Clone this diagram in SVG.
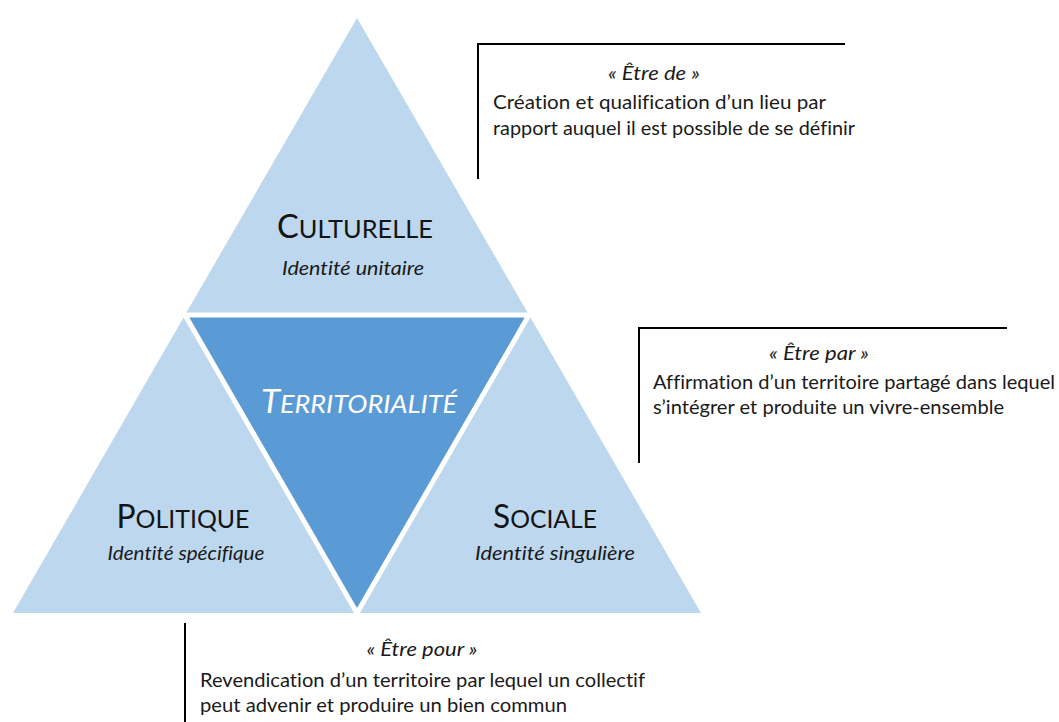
<svg xmlns="http://www.w3.org/2000/svg" width="1059" height="722" viewBox="0 0 1059 722">
<style>
text{font-variant-ligatures:none;font-feature-settings:"liga" 0,"clig" 0}
.tri{fill:#BDD7EE}
.mid{fill:#5B9BD5}
.gap{stroke:#FFFFFF;stroke-width:5;fill:none;stroke-linejoin:miter}
.lbl{font-family:Lato,"Open Sans","Liberation Sans",sans-serif;fill:#141414}
.big{font-size:32px}
.sc{font-size:25px}
.sub{font-family:Lato,"Open Sans","Liberation Sans",sans-serif;font-style:italic;font-size:19px;fill:#1a1a1a}
.ttl{font-family:Lato,"Open Sans","Liberation Sans",sans-serif;font-style:italic;fill:#FFFFFF}
.body{font-family:Lato,"Open Sans","Liberation Sans",sans-serif;font-size:20px;fill:#1a1a1a}
.quote{font-family:Lato,"Open Sans","Liberation Sans",sans-serif;font-style:italic;font-size:20px;fill:#1a1a1a}
.bracket{stroke:#000000;stroke-width:2;fill:none}
</style>
<rect width="1059" height="722" fill="#FFFFFF"/>
<g id="culturelle">
<polygon class="tri" points="357,18 185,315 529,315"/>
<text class="lbl" x="355" y="238" text-anchor="middle" textLength="156" lengthAdjust="spacingAndGlyphs"><tspan class="big">C</tspan><tspan class="sc">ULTURELLE</tspan></text>
<text class="sub" x="353" y="275" text-anchor="middle" textLength="142" lengthAdjust="spacingAndGlyphs">Identité unitaire</text>
</g>
<g id="politique">
<polygon class="tri" points="185,315 13,613 357,613"/>
<text class="lbl" x="183" y="528" text-anchor="middle" textLength="133" lengthAdjust="spacingAndGlyphs"><tspan class="big">P</tspan><tspan class="sc">OLITIQUE</tspan></text>
<text class="sub" x="186" y="560" text-anchor="middle" textLength="157" lengthAdjust="spacingAndGlyphs">Identité spécifique</text>
</g>
<g id="sociale">
<polygon class="tri" points="529,315 357,613 701,613"/>
<text class="lbl" x="545" y="528" text-anchor="middle" textLength="104" lengthAdjust="spacingAndGlyphs"><tspan class="big">S</tspan><tspan class="sc">OCIALE</tspan></text>
<text class="sub" x="555" y="560" text-anchor="middle" textLength="160" lengthAdjust="spacingAndGlyphs">Identité singulière</text>
</g>
<g id="territorialite">
<polygon class="mid" points="185,315 529,315 357,613"/>
<text class="ttl" x="359" y="413" text-anchor="middle" textLength="196" lengthAdjust="spacingAndGlyphs"><tspan font-size="32">T</tspan><tspan font-size="25">ERRITORIALITÉ</tspan></text>
</g>
<g id="separators">
<polygon class="gap" points="185,315 529,315 357,613"/>
</g>
<g id="connectors">
<polyline class="bracket" points="478,179 478,44 845,44"/>
<polyline class="bracket" points="639,463 639,328 1007,328"/>
<line class="bracket" x1="185" y1="623" x2="185" y2="722"/>
</g>
<g id="etre-de">
<text class="quote" x="654" y="80" text-anchor="middle" textLength="92" lengthAdjust="spacingAndGlyphs">« Être de »</text>
<text class="body" x="493" y="109" textLength="333" lengthAdjust="spacingAndGlyphs">Création et qualification d’un lieu par</text>
<text class="body" x="493" y="135" textLength="362" lengthAdjust="spacingAndGlyphs">rapport auquel il est possible de se définir</text>
</g>
<g id="etre-par">
<text class="quote" x="819" y="360" text-anchor="middle" textLength="100" lengthAdjust="spacingAndGlyphs">« Être par »</text>
<text class="body" x="653" y="389" textLength="402" lengthAdjust="spacingAndGlyphs">Affirmation d’un territoire partagé dans lequel</text>
<text class="body" x="653" y="414" textLength="351" lengthAdjust="spacingAndGlyphs">s’intégrer et produite un vivre-ensemble</text>
</g>
<g id="etre-pour">
<text class="quote" x="422" y="656" text-anchor="middle" textLength="111" lengthAdjust="spacingAndGlyphs">« Être pour »</text>
<text class="body" x="200" y="687" textLength="445" lengthAdjust="spacingAndGlyphs">Revendication d’un territoire par lequel un collectif</text>
<text class="body" x="200" y="712" textLength="367" lengthAdjust="spacingAndGlyphs">peut advenir et produire un bien commun</text>
</g>
</svg>
